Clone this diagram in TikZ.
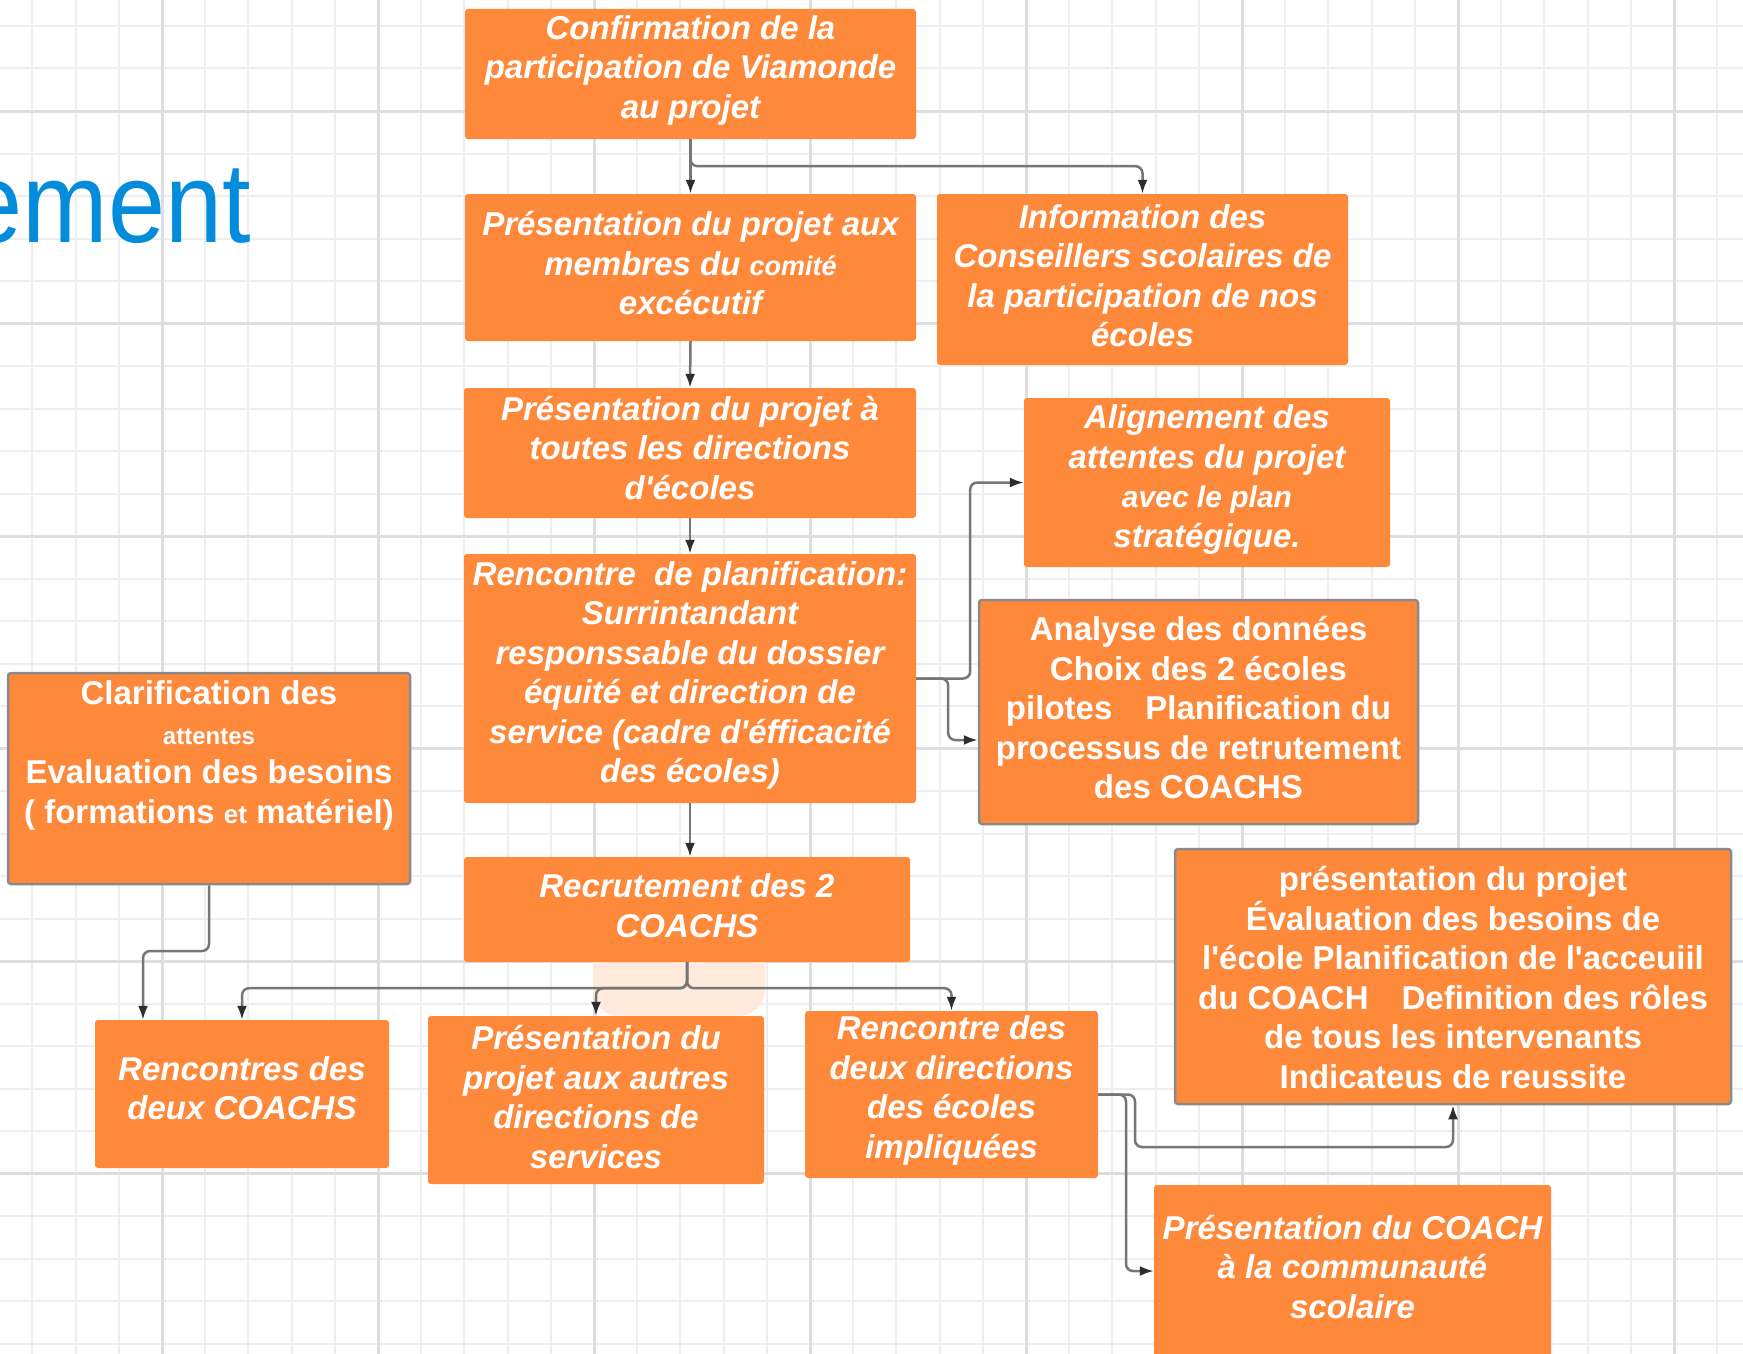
\documentclass[tikz,border=0pt]{standalone}
\usepackage{fontspec}
\usepackage{graphicx}
\setmainfont{Liberation Sans}
\newfontfamily\boxfont{Liberation Sans}
\usetikzlibrary{arrows.meta,calc}
\definecolor{boxor}{RGB}{255,137,59}
\definecolor{gridminor}{RGB}{238,238,238}
\definecolor{gridmajor}{RGB}{222,222,222}
\definecolor{titleblue}{RGB}{4,140,220}
\definecolor{connc}{RGB}{118,118,118}
\definecolor{headc}{RGB}{45,45,45}
\definecolor{bordgray}{RGB}{138,138,138}
\definecolor{peach}{RGB}{255,234,220}
\begin{document}
\begin{tikzpicture}[x=1pt,y=-1pt,
  box/.style={fill=boxor, rounded corners=3pt, inner sep=0pt, minimum width=#1},
  boxb/.style={box=#1, draw=bordgray, line width=2.5pt},
  txt/.style={text=white, font=\boxfont\fontsize{33}{39.5}\selectfont\bfseries\itshape, align=center, inner sep=0pt},
  txtu/.style={txt, font=\boxfont\fontsize{33}{39.5}\selectfont\bfseries},
  conn/.style={draw=connc, line width=2.5pt, rounded corners=7pt, -{Latex[length=14pt,width=10pt,color=headc]}}
]
\clip (0,0) rectangle (1743,1354);
\fill[white] (0,0) rectangle (1743,1354);
% grid
\foreach \i in {-4,...,38} {\draw[gridminor, line width=2pt] ({162+43.2*\i},0) -- ++(0,1354);}
\foreach \j in {-3,...,30} {\draw[gridminor, line width=2pt] (0,{111+42.5*\j}) -- ++(1743,0);}
\foreach \i in {-1,...,8} {\draw[gridmajor, line width=3pt] ({162+216*\i},0) -- ++(0,1354);}
\foreach \j in {-1,...,6} {\draw[gridmajor, line width=3pt] (0,{111+212.5*\j}) -- ++(1743,0);}

% title fragment
\node[anchor=base east, inner sep=0pt, text=titleblue, font=\fontsize{114}{114}\selectfont] (title) at (251,242) {\scalebox{0.9}[1]{ement}};

% faint highlight under the recruiting box
\fill[peach, rounded corners=26pt] (593,930) -- (593,1016) -- (765,1016) -- (765,930) -- cycle;

% boxes
\node[box=451pt, minimum height=130pt] (A) at (690.5,74) {};
\node[box=451pt, minimum height=147pt] (B) at (690.5,267.5) {};
\node[box=411pt, minimum height=171pt] (C) at (1142.5,279.5) {};
\node[box=452pt, minimum height=130pt] (D) at (690,453) {};
\node[box=366pt, minimum height=169pt] (E) at (1207,482.5) {};
\node[box=452pt, minimum height=249pt] (F) at (690,678.5) {};
\node[boxb=439pt, minimum height=224pt] (G) at (1198.5,712) {};
\node[boxb=402pt, minimum height=211pt] (H) at (209,778.5) {};
\node[box=446pt, minimum height=105pt] (I) at (687,909.5) {};
\node[box=294pt, minimum height=148pt] (J) at (242,1094) {};
\node[box=336pt, minimum height=168pt] (K) at (596,1100) {};
\node[box=293pt, minimum height=167pt] (L) at (951.5,1094.5) {};
\node[boxb=556pt, minimum height=255pt] (M) at (1453,976.5) {};
\node[box=397pt, minimum height=185pt] (N) at (1352.5,1277.5) {};

% texts
\node[txt] (At) at ($(A.center)+(0,-4)$) {Confirmation de la\\participation de Viamonde\\au projet};
\node[txt] (Bt) at ($(B.center)+(0,-4)$) {Présentation du projet aux\\membres du {\fontsize{27}{39.5}\selectfont comité}\\excécutif};
\node[txt] (Ct) at ($(C.center)+(0,-4)$) {Information des\\Conseillers scolaires de\\la participation de nos\\écoles};
\node[txt] (Dt) at ($(D.center)+(0,-5)$) {Présentation du projet à\\toutes les directions\\d'écoles};
\node[txt] (Et) at ($(E.center)+(0,-3)$) {Alignement des\\attentes du projet\\{\fontsize{30}{39.5}\selectfont avec le plan}\\stratégique.};
\node[txt] (Ft) at ($(F.center)+(0,-3)$) {Rencontre\ \ de planification:\\Surrintandant\\responssable du dossier\\équité et direction de\\service (cadre d'éfficacité\\des écoles)};
\node[txtu] (Gt) at ($(G.center)+(0,-4)$) {Analyse des données\\Choix des 2 écoles\\pilotes\quad Planification du\\processus de retrutement\\des COACHS};
\node[txtu] (Ht) at ($(H.center)+(0,-23)$) {Clarification des\\{\fontsize{24}{39.5}\selectfont attentes}\\Evaluation des besoins\\( formations {\fontsize{26}{39.5}\selectfont et} matériel)};
\node[txt] (It) at ($(I.center)+(0,-4)$) {Recrutement des 2\\COACHS};
\node[txt] (Jt) at ($(J.center)+(0,-6)$) {Rencontres des\\deux COACHS};
\node[txt] (Kt) at ($(K.center)+(0,-3)$) {Présentation du\\projet aux autres\\directions de\\services};
\node[txt] (Lt) at ($(L.center)+(0,-4)$) {Rencontre des\\deux directions\\des écoles\\impliquées};
\node[txtu] (Mt) at ($(M.center)+(0,1)$) {présentation du projet\\Évaluation des besoins de\\l'école Planification de l'acceuiil\\du COACH\quad Definition des rôles\\de tous les intervenants\\Indicateus de reussite};
\node[txt] (Nt) at (1352.5,1267) {Présentation du COACH\\à la communauté\\scolaire};

% connectors
\draw[conn] (A.south) -- (B.north);
\draw[conn] (A.south) -- ++(0,27) -| (C.north);
\draw[conn] (B.south) -- (D.north);
\draw[conn] (D.south) -- (F.north);
\draw[conn] (F.east) -- ++(54,0) |- (E.west);
\draw[conn] (F.east) -- ++(32,0) |- (G.west |- 0,740);
\draw[conn] (F.south) -- (F.south |- I.north);
\draw[conn] (I.south) -- ++(0,26) -| (L.north);
\draw[conn] (I.south) -- ++(0,26) -| (K.north);
\draw[conn] (I.south) -- ++(0,26) -| (J.north);
\draw[conn] (H.south) |- (143,951) -- (J.north -| 143,0);
\draw[conn] (L.east) -| (1135,1147) -| (M.south);
\draw[conn] (L.east) -| (1126,1271) -- (N.west |- 0,1271);
\end{tikzpicture}
\end{document}
